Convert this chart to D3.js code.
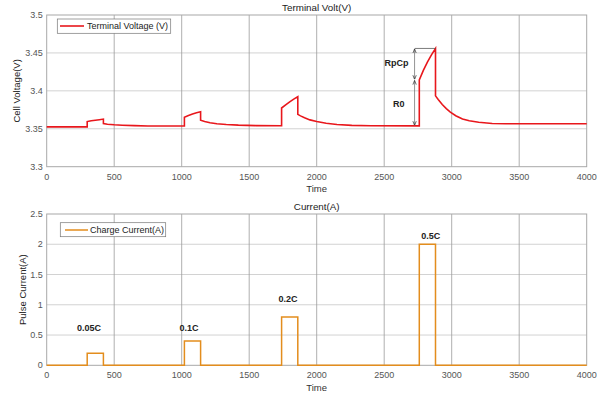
<!DOCTYPE html>
<meta charset="utf-8">
<style>
  body { margin: 0; background: #fff; }
  text { font-family: "Liberation Sans", Arial, sans-serif; }
</style>
<body></body>
<script src="https://cdn.jsdelivr.net/npm/d3@7"></script>
<script>
  const width = 604
  const height = 397

  // terminal voltage trace, [time, volts]
  const voltage = [
    [0, 3.3525], [300, 3.3525], [300, 3.3595], [330, 3.3605], [360, 3.3613], [390, 3.3620], [420, 3.3628],
    [420, 3.3568], [450, 3.3560], [500, 3.3553], [560, 3.3547], [650, 3.3541], [750, 3.3537], [1020, 3.3536],
    [1020, 3.3653], [1050, 3.3675], [1080, 3.3695], [1110, 3.3710], [1140, 3.3724],
    [1140, 3.3612], [1170, 3.3595], [1210, 3.3580], [1260, 3.3567], [1330, 3.3556], [1420, 3.3548],
    [1550, 3.3542], [1740, 3.3540],
    [1740, 3.3774], [1770, 3.3815], [1800, 3.3855], [1830, 3.3890], [1860, 3.3923],
    [1860, 3.3690], [1880, 3.3670], [1910, 3.3645], [1950, 3.3617], [2000, 3.3595], [2070, 3.3573],
    [2150, 3.3557], [2260, 3.3545], [2400, 3.3540], [2760, 3.3538],
    [2760, 3.4144], [2790, 3.4270], [2820, 3.4380], [2850, 3.4475], [2880, 3.4559],
    [2880, 3.3934], [2900, 3.3885], [2930, 3.3820], [2960, 3.3765], [2990, 3.3720], [3030, 3.3672],
    [3080, 3.3630], [3130, 3.3605], [3200, 3.3585], [3300, 3.3570], [3400, 3.3566], [4000, 3.3566]
  ]

  // charge pulses
  const pulseStart = [300, 1020, 1740, 2760]
  const pulseEnd = [420, 1140, 1860, 2880]
  const pulseAmps = [0.2, 0.4, 0.8, 2.0]
  const rateLabels = ["0.05C", "0.1C", "0.2C", "0.5C"]
  const labelTime = [313, 1054, 1787, 2844]
  const labelValue = [0.62, 0.62, 1.1, 2.14]

  // R0 / RpCp annotation: [time, base, R0 top, peak]
  const annot = [2725, 3.3538, 3.4144, 3.4559]

  const voltTicks = [3.3, 3.35, 3.4, 3.45, 3.5]
  const currTicks = [0, 0.5, 1, 1.5, 2, 2.5]
  const timeTicks = [0, 500, 1000, 1500, 2000, 2500, 3000, 3500, 4000]

  const red = "#e8171c"
  const orange = "#e38d1d"

  // build the step trace for the current plot
  const current = [[0, 0]]
  pulseStart.forEach((s, i) => {
    current.push([s, 0], [s, pulseAmps[i]], [pulseEnd[i], pulseAmps[i]], [pulseEnd[i], 0])
  })
  current.push([4000, 0])

  const svg = d3.select("body").append("svg")
    .attr("width", width)
    .attr("height", height)

  svg.append("defs").append("marker")
    .attr("id", "arr")
    .attr("viewBox", "0 0 10 10")
    .attr("refX", 10).attr("refY", 5)
    .attr("markerWidth", 6).attr("markerHeight", 6)
    .attr("orient", "auto-start-reverse")
    .append("path")
    .attr("d", "M0,1 L10,5 L0,9")
    .attr("fill", "none")
    .attr("stroke", "#222")
    .attr("stroke-width", 1.6)

  const x = d3.scaleLinear().domain([0, 4000]).range([46.7, 586.7])

  function panel(y0, y1, yDomain, yTicks, yFmt, title, ylabel) {
    const y = d3.scaleLinear().domain(yDomain).range([y1, y0])
    const g = svg.append("g")

    // grid
    g.selectAll("line.hg").data(yTicks.slice(1, -1)).enter().append("line")
      .attr("x1", x(0)).attr("x2", x(4000))
      .attr("y1", d => y(d)).attr("y2", d => y(d))
      .attr("stroke", "#d2d2d2").attr("stroke-width", 1)
    g.selectAll("line.vg").data(timeTicks.slice(1, -1)).enter().append("line")
      .attr("y1", y0).attr("y2", y1)
      .attr("x1", d => x(d)).attr("x2", d => x(d))
      .attr("stroke", "#9a9a9a").attr("stroke-width", 0.8)

    g.append("rect")
      .attr("x", x(0)).attr("y", y0)
      .attr("width", x(4000) - x(0)).attr("height", y1 - y0)
      .attr("fill", "none").attr("stroke", "#a8a8a8").attr("stroke-width", 1)

    // tick labels
    g.selectAll("text.yt").data(yTicks).enter().append("text")
      .attr("x", x(0) - 4).attr("y", d => y(d))
      .attr("dy", "0.35em").attr("text-anchor", "end")
      .attr("font-size", 9).attr("fill", "#555")
      .text(yFmt)
    g.selectAll("text.xt").data(timeTicks).enter().append("text")
      .attr("x", d => x(d)).attr("y", y1 + 10)
      .attr("dy", "0.35em").attr("text-anchor", "middle")
      .attr("font-size", 9).attr("fill", "#555")
      .text(d => d)

    g.append("text")
      .attr("x", (x(0) + x(4000)) / 2).attr("y", y1 + 22)
      .attr("dy", "0.35em").attr("text-anchor", "middle")
      .attr("font-size", 9.5).attr("fill", "#333").text("Time")
    g.append("text")
      .attr("x", (x(0) + x(4000)) / 2).attr("y", y0 - 7)
      .attr("dy", "0.35em").attr("text-anchor", "middle")
      .attr("font-size", 9.8).attr("fill", "#222").text(title)
    g.append("text")
      .attr("transform", `translate(${ylabel.x},${(y0 + y1) / 2}) rotate(-90)`)
      .attr("dy", "0.35em").attr("text-anchor", "middle")
      .attr("font-size", 9.5).attr("fill", "#222").text(ylabel.text)

    return { g, y }
  }

  // --- top: terminal voltage
  const vp = panel(15, 166.7, [3.3, 3.5], voltTicks, d => d3.format("")(d), "Terminal Volt(V)",
    { x: 17, text: "Cell Voltage(V)" })

  vp.g.append("path")
    .datum(voltage)
    .attr("d", d3.line().x(d => x(d[0])).y(d => vp.y(d[1])))
    .attr("fill", "none").attr("stroke", red).attr("stroke-width", 1.6)

  // annotation arrows
  const ax = x(annot[0])
  vp.g.append("line")
    .attr("x1", ax).attr("x2", x(2880))
    .attr("y1", vp.y(annot[3])).attr("y2", vp.y(annot[3]))
    .attr("stroke", "#444").attr("stroke-width", 0.7)
  vp.g.append("line")
    .attr("x1", ax).attr("x2", ax)
    .attr("y1", vp.y(annot[3]) + 0.5).attr("y2", vp.y(annot[2]) - 0.5)
    .attr("stroke", "#666").attr("stroke-width", 0.7)
    .attr("marker-start", "url(#arr)").attr("marker-end", "url(#arr)")
  vp.g.append("line")
    .attr("x1", ax).attr("x2", ax)
    .attr("y1", vp.y(annot[2]) + 0.5).attr("y2", vp.y(annot[1]) - 0.5)
    .attr("stroke", "#666").attr("stroke-width", 0.7)
    .attr("marker-start", "url(#arr)").attr("marker-end", "url(#arr)")
  vp.g.append("text")
    .attr("x", ax - 6).attr("y", vp.y((annot[2] + annot[3]) / 2) - 1)
    .attr("dy", "0.35em").attr("text-anchor", "end")
    .attr("font-size", 9).attr("font-weight", "bold").attr("fill", "#222").text("RpCp")
  vp.g.append("text")
    .attr("x", ax - 10).attr("y", vp.y((annot[1] + annot[2]) / 2) + 1)
    .attr("dy", "0.35em").attr("text-anchor", "end")
    .attr("font-size", 9).attr("font-weight", "bold").attr("fill", "#222").text("R0")

  // legend
  vp.g.append("rect").attr("x", 57.3).attr("y", 19).attr("width", 113.4).attr("height", 14.3)
    .attr("fill", "#fff").attr("stroke", "#777").attr("stroke-width", 0.7)
  vp.g.append("line").attr("x1", 60).attr("x2", 84).attr("y1", 26).attr("y2", 26)
    .attr("stroke", red).attr("stroke-width", 1.6)
  vp.g.append("text").attr("x", 87).attr("y", 26.2).attr("dy", "0.35em")
    .attr("font-size", 9).attr("fill", "#222").text("Terminal Voltage (V)")

  // --- bottom: charge current
  const cp = panel(214, 365.3, [0, 2.5], currTicks, d => d, "Current(A)",
    { x: 23, text: "Pulse Current(A)" })

  cp.g.append("path")
    .datum(current)
    .attr("d", d3.line().x(d => x(d[0])).y(d => cp.y(d[1])))
    .attr("fill", "none").attr("stroke", orange).attr("stroke-width", 1.5)

  cp.g.selectAll("text.rate").data(rateLabels).enter().append("text")
    .attr("x", (d, i) => x(labelTime[i])).attr("y", (d, i) => cp.y(labelValue[i]))
    .attr("dy", "0.35em").attr("text-anchor", "middle")
    .attr("font-size", 9).attr("font-weight", "bold").attr("fill", "#222")
    .text(d => d)

  cp.g.append("rect").attr("x", 60.3).attr("y", 222.7).attr("width", 105.4).attr("height", 14)
    .attr("fill", "#fff").attr("stroke", "#777").attr("stroke-width", 0.7)
  cp.g.append("line").attr("x1", 65).attr("x2", 88).attr("y1", 230).attr("y2", 230)
    .attr("stroke", orange).attr("stroke-width", 1.5)
  cp.g.append("text").attr("x", 90).attr("y", 230.2).attr("dy", "0.35em")
    .attr("font-size", 9).attr("fill", "#222").text("Charge Current(A)")
</script>
